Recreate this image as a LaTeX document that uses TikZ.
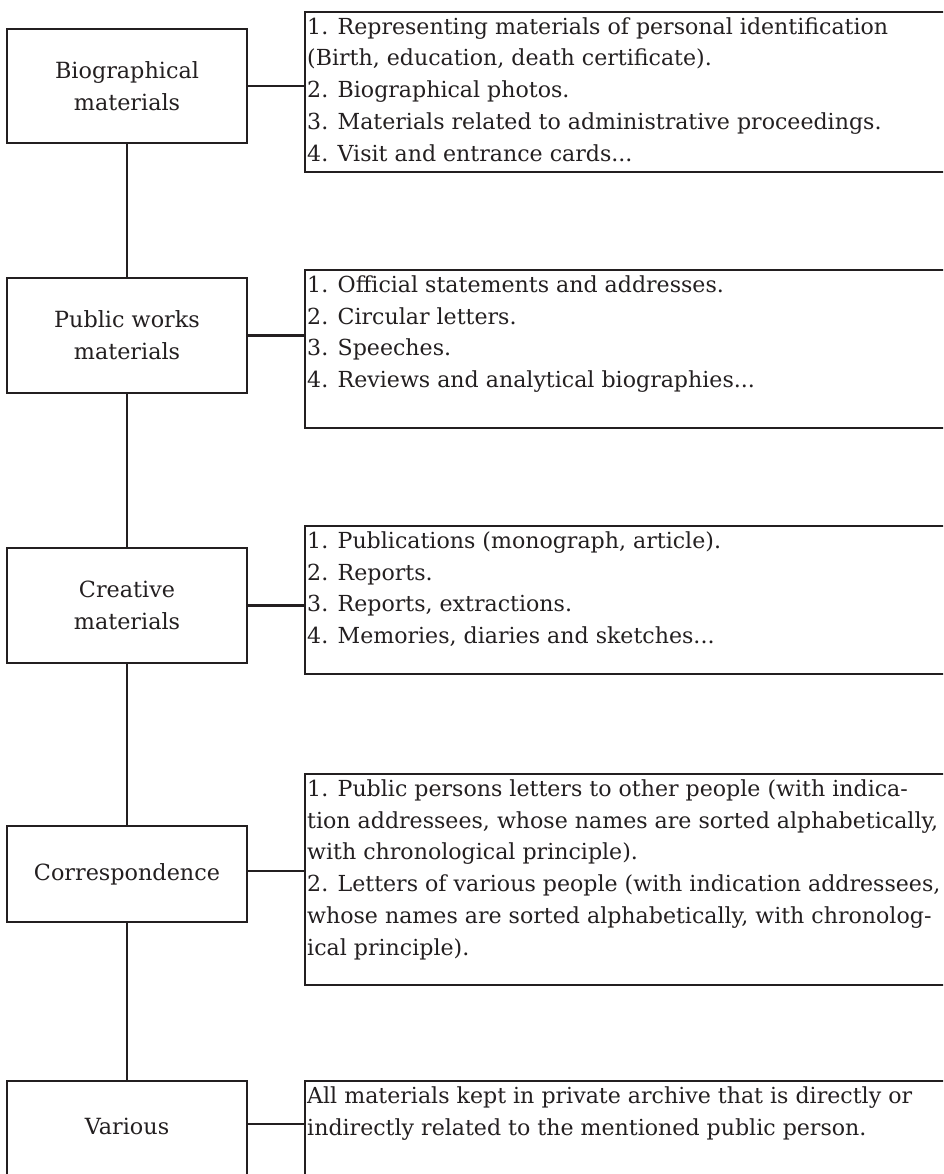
\documentclass[tikz,border=0pt]{standalone}
\usepackage{fontspec}
\setmainfont{DejaVu Serif}
\definecolor{ink}{HTML}{231F20}
\tikzset{
  leftbox/.style={draw=ink, line width=2.4pt, minimum width=240pt, inner sep=0pt,
    align=center, text=ink, font=\fontsize{22.3}{32.3}\selectfont},
  rightbox/.style={draw=ink, line width=2.4pt, inner xsep=2pt, inner ysep=0pt,
    anchor=north west, text=ink, font=\fontsize{22.1}{31.8}\selectfont},
  link/.style={draw=ink, line width=2.4pt}
}
\newcommand{\firstline}{\rule{0pt}{22pt}}
\begin{document}
\begin{tikzpicture}[x=1pt,y=-1pt]
\useasboundingbox (0,0) rectangle (943,1174);
\clip (0,0) rectangle (943,1174);

% left column
\node[leftbox, minimum height=114pt] (b1) at (127,86) {Biographical\\materials};
\node[leftbox, minimum height=115pt] (b2) at (127,335.5) {Public works\\materials};
\node[leftbox, minimum height=115pt] (b3) at (127,605.5) {Creative\\materials};
\node[leftbox, minimum height=96pt] (b4) at (127,874) {Correspondence};
\node[leftbox, anchor=north, text height=53pt, text depth=100pt] (b5) at (127,1080) {Various};

% right column
\node[rightbox] (r1) at (304,11) {\parbox[t][160pt][t]{640pt}{\firstline 1. Representing materials of personal identification\\
(Birth, education, death certificate).\\
2. Biographical photos.\\
3. Materials related to administrative proceedings.\\
4. Visit and entrance cards...}};

\node[rightbox] (r2) at (304,269) {\parbox[t][158pt][t]{640pt}{\firstline 1. Official statements and addresses.\\
2. Circular letters.\\
3. Speeches.\\
4. Reviews and analytical biographies...}};

\node[rightbox] (r3) at (304,525) {\parbox[t][148pt][t]{640pt}{\firstline 1. Publications (monograph, article).\\
2. Reports.\\
3. Reports, extractions.\\
4. Memories, diaries and sketches...}};

\node[rightbox] (r4) at (304,773) {\parbox[t][211pt][t]{640pt}{\firstline 1. Public persons letters to other people (with indica-\\
tion addressees, whose names are sorted alphabetically,\\
with chronological principle).\\
2. Letters of various people (with indication addressees,\\
whose names are sorted alphabetically, with chronolog-\\
ical principle).}};

\node[rightbox] (r5) at (304,1080) {\parbox[t][150pt][t]{640pt}{\firstline All materials kept in private archive that is directly or\\
indirectly related to the mentioned public person.}};

% vertical spine
\draw[link] (b1.south) -- (b2.north);
\draw[link] (b2.south) -- (b3.north);
\draw[link] (b3.south) -- (b4.north);
\draw[link] (b4.south) -- (b5.north);

% horizontal connectors
\draw[link] (b1.east) -- (b1.east -| r1.west);
\draw[link] (b2.east) -- (b2.east -| r2.west);
\draw[link] (b3.east) -- (b3.east -| r3.west);
\draw[link] ([yshift=3pt]b4.east) -- ([yshift=3pt]b4.east -| r4.west);
\draw[link] ([yshift=-44pt]b5.north east) -- ([yshift=-44pt]b5.north east -| r5.west);
\end{tikzpicture}
\end{document}
